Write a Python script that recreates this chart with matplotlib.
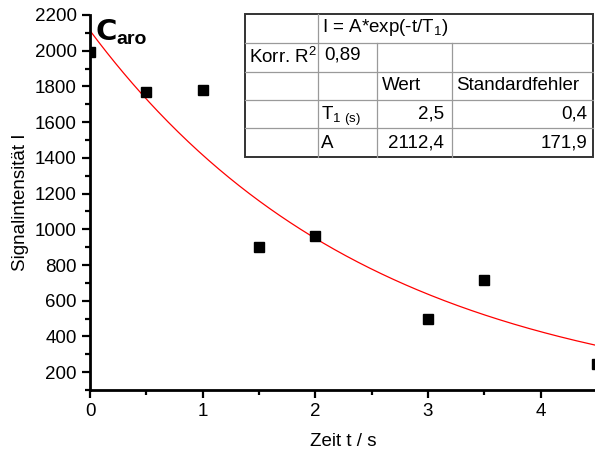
import numpy as np
import matplotlib.pyplot as plt
from matplotlib.ticker import MultipleLocator

plt.rcParams['font.family'] = ['Liberation Sans', 'DejaVu Sans']

# measured signal
zeit = [0, 0.5, 1.0, 1.5, 2.0, 3.0, 3.5, 4.5]
signal = [1990, 1770, 1780, 900, 960, 500, 715, 245]

# fit result I = A*exp(-t/T1)
A_fit = 2112.4
T1_fit = 2.5

# table grid (pixels)
col_edges = [245, 318, 377, 452, 593]
row_edges = [14, 43, 72, 100, 128, 157]

fig = plt.figure(figsize=(5.95, 4.55), dpi=100)
ax = fig.add_axes([90 / 595, 1 - 390 / 455, 507 / 595, 375 / 455])

ax.plot(zeit, signal, 's', color='black', ms=6.8, zorder=3)
t = np.linspace(0, 4.5, 300)
ax.plot(t, A_fit * np.exp(-t / T1_fit), color='red', lw=0.9)

ax.set_xlim(0, 4.5)
ax.set_ylim(100, 2200)
ax.xaxis.set_major_locator(MultipleLocator(1))
ax.xaxis.set_minor_locator(MultipleLocator(0.5))
ax.yaxis.set_minor_locator(MultipleLocator(100))
ax.set_yticks(range(200, 2201, 200))
ax.tick_params(which='major', direction='out', length=6, width=1.6, labelsize=13.5)
ax.tick_params(which='minor', direction='out', length=3.5, width=1.6)
for s in ['top', 'right']:
    ax.spines[s].set_visible(False)
for s in ['left', 'bottom']:
    ax.spines[s].set_linewidth(2)
ax.set_xlabel('Zeit t / s', fontsize=13.5, labelpad=9)
ax.set_ylabel('Signalintensität I', fontsize=13.5, labelpad=4)

fig.text(95 / 595, 1 - 40 / 455, r'$\mathbf{C}$', fontsize=21, fontweight='bold')
fig.text(116 / 595, 1 - 44 / 455, 'aro', fontsize=14, fontweight='bold')

# parameter table, laid out in pixel coordinates
def px(x, y):
    return x / 595, 1 - y / 455

def vline(x, ya, yb):
    fig.add_artist(plt.Line2D([x / 595] * 2, [1 - ya / 455, 1 - yb / 455],
                              color='#9a9a9a', lw=0.9, zorder=6))

x0, x1 = col_edges[0], col_edges[-1]
y0, y1 = row_edges[0], row_edges[-1]
fig.patches.append(plt.Rectangle(px(x0, y1), (x1 - x0) / 595, (y1 - y0) / 455,
                                 transform=fig.transFigure, facecolor='white',
                                 edgecolor='#333333', lw=1.4, zorder=5))
for ry in row_edges[1:-1]:
    fig.add_artist(plt.Line2D([x0 / 595, x1 / 595], [1 - ry / 455] * 2,
                              color='#9a9a9a', lw=0.9, zorder=6))
vline(col_edges[1], y0, y1)
vline(col_edges[2], row_edges[1], y1)
vline(col_edges[3], row_edges[1], y1)

fs = 13.5
def cell(x, y, s, ha='left'):
    fig.text(*px(x, y), s, fontsize=fs, ha=ha, va='center', zorder=7)

cell(322, 28, r'I = A*exp(-t/T$_\mathregular{1}$)')
cell(249, 57, r'Korr. R$^\mathregular{2}$')
cell(324, 55, '0,89')
cell(382, 86, 'Wert')
cell(456, 86, 'Standardfehler')
cell(321, 116, r'T$_\mathregular{1\ (s)}$')
cell(444, 114, '2,5', ha='right')
cell(587, 114, '0,4', ha='right')
cell(321, 143, 'A')
cell(444, 143, '2112,4', ha='right')
cell(587, 143, '171,9', ha='right')

fig.savefig('out.png', dpi=100)
